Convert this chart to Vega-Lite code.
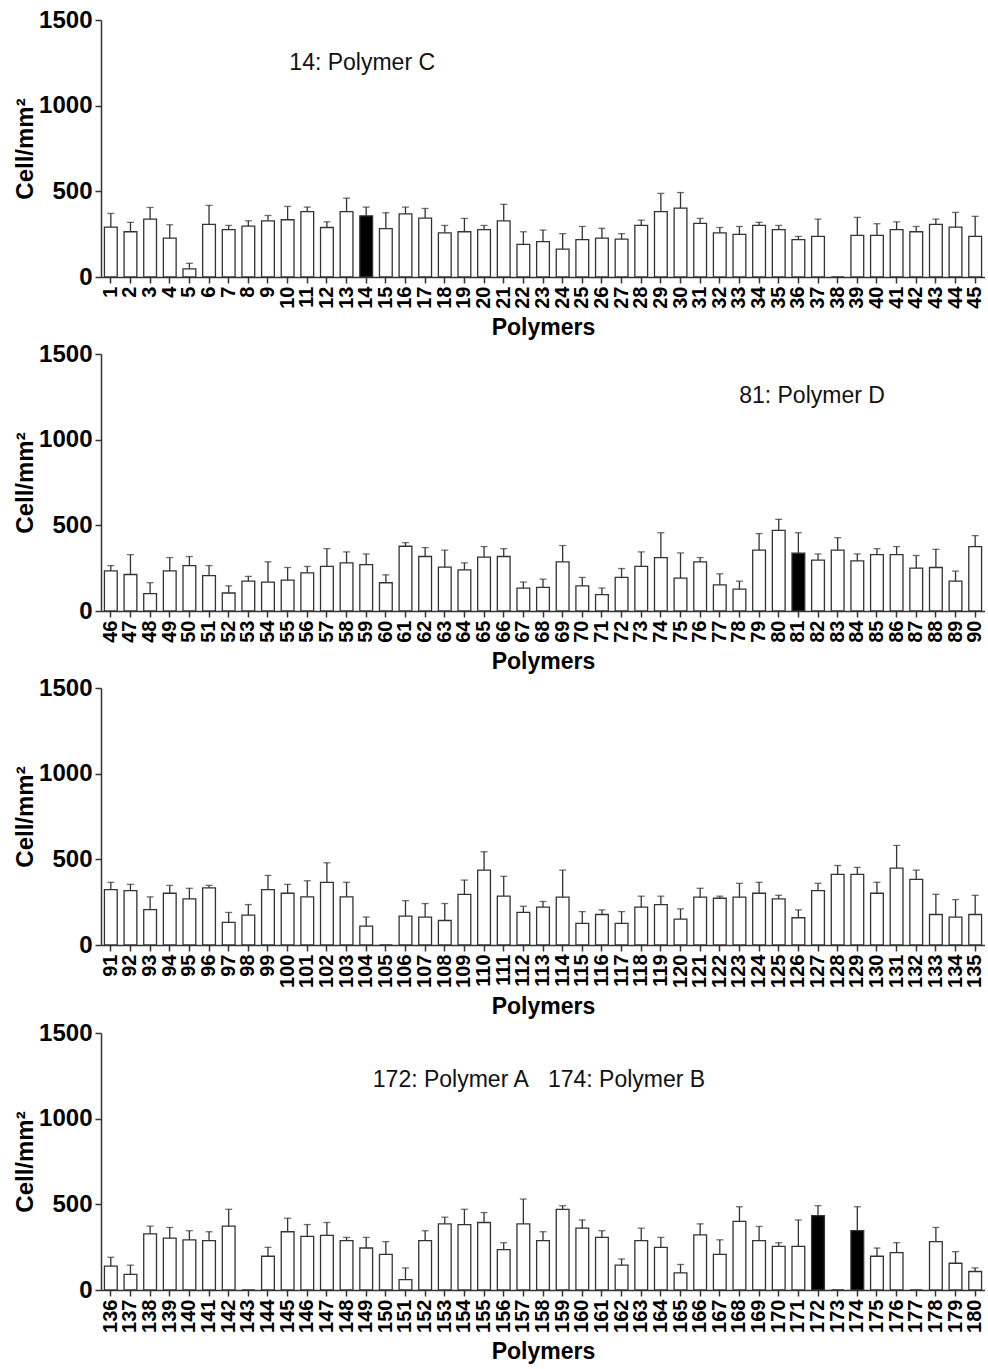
{
"$schema": "https://vega.github.io/schema/vega-lite/v6.json",
"padding": {"left": 13, "top": 8, "right": 0, "bottom": 5},
"background": "white",
"datasets": {
"bars": [
{"p":1,"v":291,"u":371},{"p":2,"v":264,"u":319},{"p":3,"v":338,"u":406},{"p":4,"v":227,"u":305},{"p":5,"v":47,"u":80},{"p":6,"v":307,"u":418},{"p":7,"v":276,"u":301},{"p":8,"v":297,"u":328},{"p":9,"v":328,"u":359},{"p":10,"v":334,"u":412},
{"p":11,"v":381,"u":408},{"p":12,"v":289,"u":322},{"p":13,"v":381,"u":460},{"p":14,"v":357,"u":408,"g":"control"},{"p":15,"v":282,"u":375},{"p":16,"v":369,"u":408},{"p":17,"v":344,"u":400},{"p":18,"v":258,"u":301},{"p":19,"v":264,"u":342},{"p":20,"v":276,"u":301},
{"p":21,"v":328,"u":424},{"p":22,"v":190,"u":264},{"p":23,"v":206,"u":274},{"p":24,"v":163,"u":253},{"p":25,"v":218,"u":295},{"p":26,"v":227,"u":284},{"p":27,"v":221,"u":253},{"p":28,"v":301,"u":332},{"p":29,"v":381,"u":488},{"p":30,"v":402,"u":493},
{"p":31,"v":313,"u":342},{"p":32,"v":258,"u":289},{"p":33,"v":249,"u":295},{"p":34,"v":301,"u":319},{"p":35,"v":276,"u":301},{"p":36,"v":218,"u":237},{"p":37,"v":237,"u":338},{"p":38,"v":0},{"p":39,"v":243,"u":348},{"p":40,"v":243,"u":311},
{"p":41,"v":276,"u":322},{"p":42,"v":264,"u":295},{"p":43,"v":307,"u":338},{"p":44,"v":291,"u":377},{"p":45,"v":237,"u":354},
{"p":46,"v":234,"u":265},{"p":47,"v":213,"u":329},{"p":48,"v":101,"u":165},{"p":49,"v":234,"u":312},{"p":50,"v":265,"u":318},{"p":51,"v":207,"u":265},{"p":52,"v":105,"u":147},{"p":53,"v":174,"u":202},{"p":54,"v":169,"u":287},{"p":55,"v":180,"u":254},
{"p":56,"v":223,"u":260},{"p":57,"v":260,"u":364},{"p":58,"v":281,"u":345},{"p":59,"v":271,"u":333},{"p":60,"v":165,"u":211},{"p":61,"v":378,"u":399},{"p":62,"v":318,"u":370},{"p":63,"v":256,"u":355},{"p":64,"v":240,"u":281},{"p":65,"v":314,"u":376},
{"p":66,"v":318,"u":364},{"p":67,"v":134,"u":169},{"p":68,"v":138,"u":186},{"p":69,"v":287,"u":382},{"p":70,"v":147,"u":196},{"p":71,"v":95,"u":134},{"p":72,"v":196,"u":248},{"p":73,"v":260,"u":345},{"p":74,"v":312,"u":457},{"p":75,"v":192,"u":339},
{"p":76,"v":287,"u":312},{"p":77,"v":153,"u":217},{"p":78,"v":128,"u":174},{"p":79,"v":355,"u":452},{"p":80,"v":471,"u":535},{"p":81,"v":337,"u":457,"g":"control"},{"p":82,"v":297,"u":333},{"p":83,"v":355,"u":428},{"p":84,"v":293,"u":333},{"p":85,"v":329,"u":364},
{"p":86,"v":329,"u":376},{"p":87,"v":250,"u":324},{"p":88,"v":254,"u":360},{"p":89,"v":174,"u":233},{"p":90,"v":376,"u":440},
{"p":91,"v":323,"u":366},{"p":92,"v":317,"u":354},{"p":93,"v":207,"u":281},{"p":94,"v":302,"u":348},{"p":95,"v":269,"u":331},{"p":96,"v":333,"u":348},{"p":97,"v":132,"u":190},{"p":98,"v":174,"u":236},{"p":99,"v":323,"u":406},{"p":100,"v":302,"u":354},
{"p":101,"v":281,"u":375},{"p":102,"v":366,"u":480},{"p":103,"v":281,"u":366},{"p":104,"v":110,"u":163},{"p":105,"v":0},{"p":106,"v":168,"u":259},{"p":107,"v":163,"u":242},{"p":108,"v":143,"u":242},{"p":109,"v":296,"u":379},{"p":110,"v":437,"u":544},
{"p":111,"v":285,"u":401},{"p":112,"v":190,"u":226},{"p":113,"v":221,"u":254},{"p":114,"v":279,"u":437},{"p":115,"v":126,"u":195},{"p":116,"v":178,"u":205},{"p":117,"v":126,"u":195},{"p":118,"v":221,"u":285},{"p":119,"v":236,"u":285},{"p":120,"v":151,"u":211},
{"p":121,"v":279,"u":331},{"p":122,"v":273,"u":285},{"p":123,"v":279,"u":360},{"p":124,"v":302,"u":366},{"p":125,"v":269,"u":290},{"p":126,"v":159,"u":205},{"p":127,"v":317,"u":360},{"p":128,"v":412,"u":464},{"p":129,"v":412,"u":453},{"p":130,"v":302,"u":366},
{"p":131,"v":449,"u":581},{"p":132,"v":383,"u":437},{"p":133,"v":178,"u":296},{"p":134,"v":163,"u":265},{"p":135,"v":178,"u":290},
{"p":136,"v":139,"u":191},{"p":137,"v":91,"u":145},{"p":138,"v":328,"u":373},{"p":139,"v":303,"u":365},{"p":140,"v":293,"u":346},{"p":141,"v":288,"u":340},{"p":142,"v":373,"u":471},{"p":143,"v":0},{"p":144,"v":197,"u":249},{"p":145,"v":340,"u":419},
{"p":146,"v":313,"u":382},{"p":147,"v":319,"u":394},{"p":148,"v":288,"u":307},{"p":149,"v":245,"u":307},{"p":150,"v":208,"u":282},{"p":151,"v":60,"u":129},{"p":152,"v":288,"u":346},{"p":153,"v":386,"u":425},{"p":154,"v":382,"u":471},{"p":155,"v":394,"u":452},
{"p":156,"v":236,"u":276},{"p":157,"v":386,"u":531},{"p":158,"v":288,"u":340},{"p":159,"v":471,"u":492},{"p":160,"v":361,"u":409},{"p":161,"v":307,"u":346},{"p":162,"v":145,"u":181},{"p":163,"v":288,"u":361},{"p":164,"v":249,"u":307},{"p":165,"v":100,"u":149},
{"p":166,"v":322,"u":386},{"p":167,"v":208,"u":293},{"p":168,"v":400,"u":486},{"p":169,"v":288,"u":371},{"p":170,"v":255,"u":276},{"p":171,"v":255,"u":409},{"p":172,"v":434,"u":492,"g":"control"},{"p":173,"v":0},{"p":174,"v":346,"u":486,"g":"control"},{"p":175,"v":197,"u":245},
{"p":176,"v":218,"u":276},{"p":177,"v":0},{"p":178,"v":282,"u":365},{"p":179,"v":156,"u":224},{"p":180,"v":108,"u":129}
],
"notes": [
{"p":14,"v":1250,"label":"14: Polymer C"},
{"p":82,"v":1257,"label":"81: Polymer D"},
{"p":158,"v":1223,"label":"172: Polymer A\u00a0\u00a0\u00a0174: Polymer B"}
]
},
"vconcat": [
{"width":884,"height":257,"layer":[
{"data":{"name":"bars"},"transform":[{"filter":{"field":"p","range":[1,45]}}],"mark":{"type":"bar","stroke":"#333","strokeWidth":1.3},"encoding":{"x":{"field":"p","type":"ordinal","title":"Polymers","scale":{"paddingInner":0.35,"paddingOuter":0.175}},"y":{"field":"v","type":"quantitative","title":"Cell/mm²","scale":{"domain":[0,1500],"nice":false},"axis":{"values":[0,500,1000,1500],"format":"d"}},"fill":{"condition":{"test":"datum.g === 'control'","value":"black"},"value":"white"}}},
{"data":{"name":"bars"},"transform":[{"filter":{"field":"p","range":[1,45]}},{"filter":"isValid(datum.u)"}],"mark":{"type":"rule","color":"#333","strokeWidth":1.3},"encoding":{"x":{"field":"p","type":"ordinal","title":"Polymers"},"y":{"field":"v","type":"quantitative","title":"Cell/mm²"},"y2":{"field":"u"}}},
{"data":{"name":"bars"},"transform":[{"filter":{"field":"p","range":[1,45]}},{"filter":"isValid(datum.u)"}],"mark":{"type":"tick","color":"#333","thickness":1.3,"size":7,"orient":"horizontal"},"encoding":{"x":{"field":"p","type":"ordinal","title":"Polymers"},"y":{"field":"u","type":"quantitative","title":"Cell/mm²"}}},
{"data":{"name":"notes"},"transform":[{"filter":{"field":"p","range":[1,45]}}],"mark":{"type":"text","font":"Liberation Sans","fontSize":23,"color":"#111","align":"center","baseline":"middle","dx":-4},"encoding":{"x":{"field":"p","type":"ordinal","title":"Polymers"},"y":{"field":"v","type":"quantitative","title":"Cell/mm²"},"text":{"field":"label"}}}
]},
{"width":884,"height":257,"layer":[
{"data":{"name":"bars"},"transform":[{"filter":{"field":"p","range":[46,90]}}],"mark":{"type":"bar","stroke":"#333","strokeWidth":1.3},"encoding":{"x":{"field":"p","type":"ordinal","title":"Polymers","scale":{"paddingInner":0.35,"paddingOuter":0.175}},"y":{"field":"v","type":"quantitative","title":"Cell/mm²","scale":{"domain":[0,1500],"nice":false},"axis":{"values":[0,500,1000,1500],"format":"d"}},"fill":{"condition":{"test":"datum.g === 'control'","value":"black"},"value":"white"}}},
{"data":{"name":"bars"},"transform":[{"filter":{"field":"p","range":[46,90]}},{"filter":"isValid(datum.u)"}],"mark":{"type":"rule","color":"#333","strokeWidth":1.3},"encoding":{"x":{"field":"p","type":"ordinal","title":"Polymers"},"y":{"field":"v","type":"quantitative","title":"Cell/mm²"},"y2":{"field":"u"}}},
{"data":{"name":"bars"},"transform":[{"filter":{"field":"p","range":[46,90]}},{"filter":"isValid(datum.u)"}],"mark":{"type":"tick","color":"#333","thickness":1.3,"size":7,"orient":"horizontal"},"encoding":{"x":{"field":"p","type":"ordinal","title":"Polymers"},"y":{"field":"u","type":"quantitative","title":"Cell/mm²"}}},
{"data":{"name":"notes"},"transform":[{"filter":{"field":"p","range":[46,90]}}],"mark":{"type":"text","font":"Liberation Sans","fontSize":23,"color":"#111","align":"center","baseline":"middle","dx":-6},"encoding":{"x":{"field":"p","type":"ordinal","title":"Polymers"},"y":{"field":"v","type":"quantitative","title":"Cell/mm²"},"text":{"field":"label"}}}
]},
{"width":884,"height":257,"layer":[
{"data":{"name":"bars"},"transform":[{"filter":{"field":"p","range":[91,135]}}],"mark":{"type":"bar","stroke":"#333","strokeWidth":1.3},"encoding":{"x":{"field":"p","type":"ordinal","title":"Polymers","scale":{"paddingInner":0.35,"paddingOuter":0.175}},"y":{"field":"v","type":"quantitative","title":"Cell/mm²","scale":{"domain":[0,1500],"nice":false},"axis":{"values":[0,500,1000,1500],"format":"d"}},"fill":{"condition":{"test":"datum.g === 'control'","value":"black"},"value":"white"}}},
{"data":{"name":"bars"},"transform":[{"filter":{"field":"p","range":[91,135]}},{"filter":"isValid(datum.u)"}],"mark":{"type":"rule","color":"#333","strokeWidth":1.3},"encoding":{"x":{"field":"p","type":"ordinal","title":"Polymers"},"y":{"field":"v","type":"quantitative","title":"Cell/mm²"},"y2":{"field":"u"}}},
{"data":{"name":"bars"},"transform":[{"filter":{"field":"p","range":[91,135]}},{"filter":"isValid(datum.u)"}],"mark":{"type":"tick","color":"#333","thickness":1.3,"size":7,"orient":"horizontal"},"encoding":{"x":{"field":"p","type":"ordinal","title":"Polymers"},"y":{"field":"u","type":"quantitative","title":"Cell/mm²"}}}
]},
{"width":884,"height":257,"layer":[
{"data":{"name":"bars"},"transform":[{"filter":{"field":"p","range":[136,180]}}],"mark":{"type":"bar","stroke":"#333","strokeWidth":1.3},"encoding":{"x":{"field":"p","type":"ordinal","title":"Polymers","scale":{"paddingInner":0.35,"paddingOuter":0.175}},"y":{"field":"v","type":"quantitative","title":"Cell/mm²","scale":{"domain":[0,1500],"nice":false},"axis":{"values":[0,500,1000,1500],"format":"d"}},"fill":{"condition":{"test":"datum.g === 'control'","value":"black"},"value":"white"}}},
{"data":{"name":"bars"},"transform":[{"filter":{"field":"p","range":[136,180]}},{"filter":"isValid(datum.u)"}],"mark":{"type":"rule","color":"#333","strokeWidth":1.3},"encoding":{"x":{"field":"p","type":"ordinal","title":"Polymers"},"y":{"field":"v","type":"quantitative","title":"Cell/mm²"},"y2":{"field":"u"}}},
{"data":{"name":"bars"},"transform":[{"filter":{"field":"p","range":[136,180]}},{"filter":"isValid(datum.u)"}],"mark":{"type":"tick","color":"#333","thickness":1.3,"size":7,"orient":"horizontal"},"encoding":{"x":{"field":"p","type":"ordinal","title":"Polymers"},"y":{"field":"u","type":"quantitative","title":"Cell/mm²"}}},
{"data":{"name":"notes"},"transform":[{"filter":{"field":"p","range":[136,180]}}],"mark":{"type":"text","font":"Liberation Sans","fontSize":23,"color":"#111","align":"center","baseline":"middle","dx":-4},"encoding":{"x":{"field":"p","type":"ordinal","title":"Polymers"},"y":{"field":"v","type":"quantitative","title":"Cell/mm²"},"text":{"field":"label"}}}
]}
],
"spacing": 2,
"config": {
"view": {"stroke": null},
"font": "Liberation Sans",
"axis": {"labelFont":"Liberation Sans","titleFont":"Liberation Sans","labelColor":"black","titleColor":"black","domainColor":"#333","tickColor":"#333","domainWidth":1.5,"tickWidth":1.5,"grid":false,"labelFontWeight":"bold","titleFontWeight":"bold","tickSize":6},
"axisX": {"labelAngle":-90,"labelOverlap":false,"labelFontSize":20,"labelPadding":3,"titleFontSize":23,"titlePadding":8,"labelBound":false,"labelFlush":false},
"axisY": {"labelFontSize":24,"titleFontSize":24,"titlePadding":1,"labelPadding":3}
}
}
